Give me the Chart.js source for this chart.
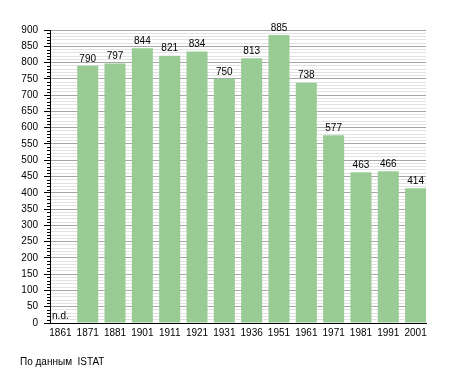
<!DOCTYPE html>
<html>
<head>
<meta charset="utf-8">
<script src="https://cdn.jsdelivr.net/npm/chart.js@4"></script>
<style>
  html, body { margin: 0; padding: 0; background: #fff; }
  #wrap { position: relative; width: 455px; height: 373px; }
  #note { position: absolute; left: 20px; top: 356px; font: 10px "Liberation Sans", Arial, sans-serif; color: #000; white-space: pre; }
</style>
</head>
<body>
<div id="wrap">
  <canvas id="pop_graph" width="455" height="373"></canvas>
  <div id="note">По данным  ISTAT</div>
</div>
<script>
const years = ['1861', '1871', '1881', '1901', '1911', '1921', '1931', '1936', '1951', '1961', '1971', '1981', '1991', '2001'];
const population = [null, 790, 797, 844, 821, 834, 750, 813, 885, 738, 577, 463, 466, 414];
const yMax = 900;
const yStep = 10;
const labelStep = 50;

const fontSpec = { family: '"Liberation Sans", Arial, sans-serif', size: 10 };

// bars sit on a linear x scale (index of the year), labels come from years
const points = years.map((y, i) => ({ x: i, y: population[i] }));

// labels above the bars, "n.d." where there is no value
const barLabels = {
	id: 'barLabels',
	afterDatasetsDraw(chart) {
		const ctx = chart.ctx;
		const meta = chart.getDatasetMeta(0);
		const yScale = chart.scales.y;
		ctx.save();
		ctx.font = '10px "Liberation Sans", Arial, sans-serif';
		ctx.fillStyle = '#000';
		ctx.textAlign = 'center';
		ctx.textBaseline = 'bottom';
		meta.data.forEach((bar, i) => {
			const v = population[i];
			if (v === null) {
				ctx.fillText('n.d.', chart.scales.x.getPixelForValue(i), yScale.getPixelForValue(0) - 2);
			} else {
				ctx.fillText(String(v), bar.x, bar.y - 2);
			}
		});
		ctx.restore();
	}
};

// short minor ticks on the y axis
const minorTicks = {
	id: 'minorTicks',
	afterDraw(chart) {
		const ctx = chart.ctx;
		const yScale = chart.scales.y;
		ctx.save();
		ctx.strokeStyle = '#000';
		ctx.lineWidth = 1;
		yScale.ticks.forEach(t => {
			if (t.value % labelStep === 0) return;
			const y = Math.round(yScale.getPixelForValue(t.value)) + 0.5;
			ctx.beginPath();
			ctx.moveTo(yScale.right - 3, y);
			ctx.lineTo(yScale.right, y);
			ctx.stroke();
		});
		ctx.restore();
	}
};

var ctx = document.getElementById('pop_graph').getContext('2d');
var myChart = new Chart(ctx, {
	type: 'bar',
	data: {
		datasets: [{
			data: points,
			backgroundColor: 'rgb(153, 204, 148)',
			borderWidth: 0,
			barPercentage: 0.77,
			categoryPercentage: 1
		}]
	},
	options: {
		responsive: false,
		devicePixelRatio: 1,
		animation: false,
		layout: { padding: { top: 30, right: 29, bottom: 0, left: 0 } },
		plugins: {
			legend: { display: false },
			tooltip: { enabled: false }
		},
		scales: {
			x: {
				type: 'linear',
				offset: false,
				min: -0.38,
				max: years.length - 1 + 0.38,
				grid: { display: false, drawTicks: false },
				border: { color: '#000', width: 1 },
				afterBuildTicks(scale) { scale.ticks = years.map((y, i) => ({ value: i })); },
				ticks: {
					color: '#000',
					font: fontSpec,
					padding: 4,
					maxRotation: 0,
					autoSkip: false,
					callback: v => years[v]
				},
				afterFit(scale) { scale.height = 50; }
			},
			y: {
				min: 0,
				max: yMax,
				grid: {
					color: c => (c.tick.value % labelStep === 0 ? '#a6a6a6' : '#e2e2e2'),
					tickColor: c => (c.tick.value % labelStep === 0 ? '#000' : 'rgba(0,0,0,0)'),
					tickLength: 6
				},
				border: { color: '#000', width: 1 },
				ticks: {
					stepSize: yStep,
					autoSkip: false,
					color: '#000',
					font: fontSpec,
					padding: 6,
					callback: v => (v % labelStep === 0 ? v : '')
				},
				afterFit(scale) { scale.width = 50; }
			}
		}
	},
	plugins: [barLabels, minorTicks]
});
</script>
</body>
</html>
